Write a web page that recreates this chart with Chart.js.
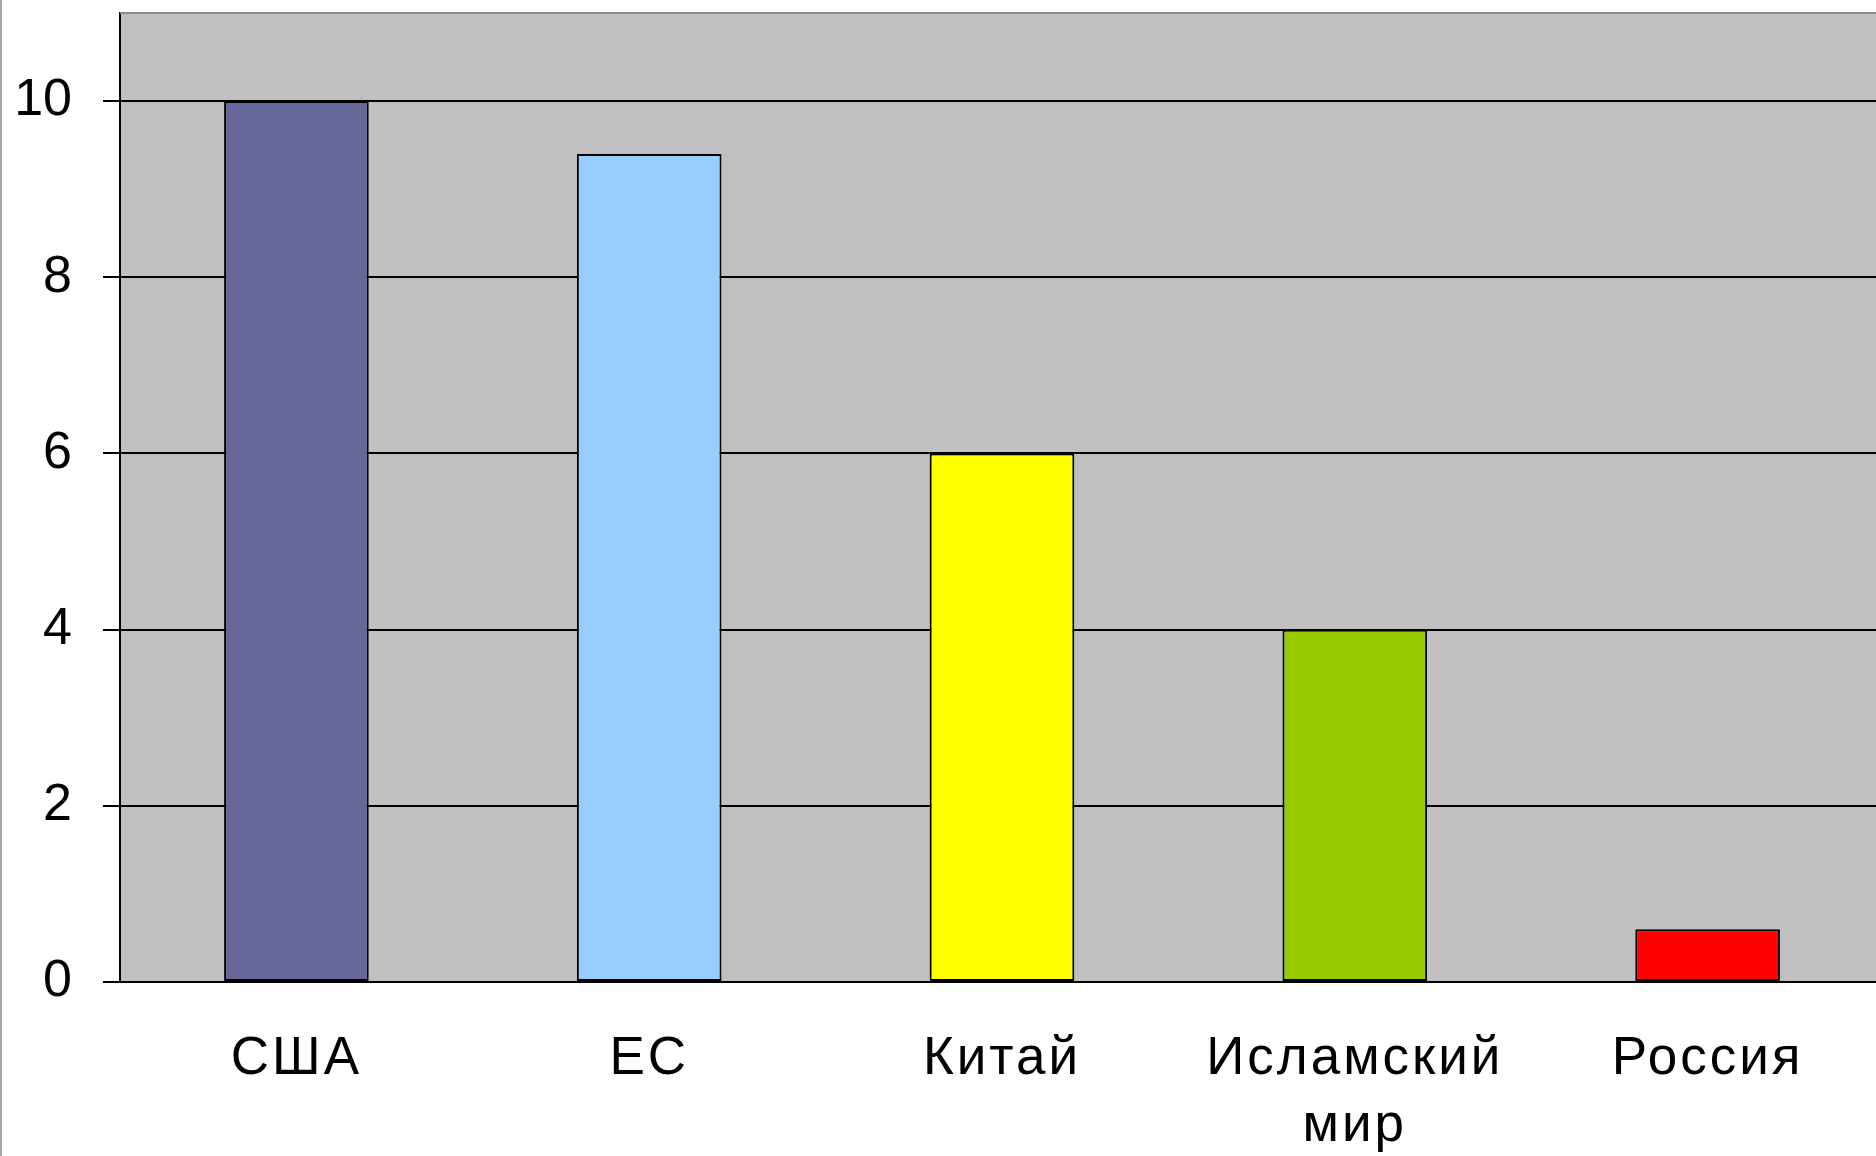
<!DOCTYPE html>
<html>
<head>
<meta charset="utf-8">
<script src="https://cdn.jsdelivr.net/npm/chart.js@4.4.0/dist/chart.umd.min.js"></script>
<style>
    html, body { margin: 0; padding: 0; background: #ffffff; overflow: hidden; }
    canvas { display: block; }
</style>
</head>
<body>
<canvas id="myChart" width="1876" height="1156"></canvas>
<script>
const categories = ['США', 'ЕС', 'Китай', ['Исламский', 'мир'], 'Россия'];
const values = [10, 9.4, 6, 4, 0.6];
const barColors = ['#666699', '#99ccff', '#ffff00', '#99cc00', '#ff0000'];
const yTicks = [0, 2, 4, 6, 8, 10];

// серый фон области построения, рамка слайда, разрядка подписей оси X
const plotBg = {
    id: 'plotBg',
    afterLayout(chart) {
        // область построения в оригинале уходит чуть за правый край
        const x = chart.scales.x;
        x.right += 8;
        x.width += 8;
        x.configure();
    },
    beforeDraw(chart) {
        const a = chart.chartArea;
        const c = chart.ctx;
        c.save();
        c.fillStyle = '#c0c0c0';
        c.fillRect(a.left, a.top, chart.width - a.left, a.bottom - a.top);
        c.restore();
    },
    afterDatasetsDraw(chart) {
        chart.ctx.letterSpacing = '3px';
    },
    afterDraw(chart) {
        const a = chart.chartArea;
        const c = chart.ctx;
        c.letterSpacing = '0px';
        c.save();
        c.strokeStyle = '#8c8c8c';
        c.lineWidth = 2;
        c.beginPath();
        c.moveTo(a.left, a.top);
        c.lineTo(chart.width, a.top);
        c.stroke();
        c.strokeStyle = '#a8a8a8';
        c.beginPath();
        c.moveTo(1, 0);
        c.lineTo(1, chart.height);
        c.stroke();
        c.restore();
    }
};

const ctx = document.getElementById('myChart');
new Chart(ctx, {
    type: 'bar',
    data: {
        labels: categories,
        datasets: [
            {
                data: values,
                backgroundColor: barColors,
                borderColor: '#000000',
                borderWidth: 2,
                borderSkipped: false,
                barPercentage: 0.41,
                categoryPercentage: 1
            }
        ]
    },
    options: {
        responsive: false,
        animation: false,
        layout: {
            padding: { left: 16, right: 0, top: 13, bottom: 0 }
        },
        plugins: {
            legend: { display: false },
            tooltip: { enabled: false }
        },
        scales: {
            x: {
                afterFit: (axis) => {
                    axis.paddingLeft = 0;
                    axis.paddingRight = 0;
                    axis.height = 174;
                },
                grid: { display: false, drawTicks: false },
                border: { display: true, color: '#000000', width: 2 },
                ticks: {
                    z: 1,
                    color: '#000000',
                    padding: 44,
                    maxRotation: 0,
                    autoSkip: false,
                    font: { family: 'Liberation Sans, Arial, sans-serif', size: 53, lineHeight: 1.26 }
                }
            },
            y: {
                min: 0,
                max: 11,
                afterBuildTicks: (axis) => {
                    axis.ticks = yTicks.map(v => ({ value: v }));
                },
                afterFit: (axis) => {
                    axis.paddingTop = 0;
                    axis.paddingBottom = 0;
                    axis.width = 104;
                },
                grid: {
                    color: '#000000',
                    lineWidth: 2,
                    tickLength: 17
                },
                border: { display: true, color: '#000000', width: 2 },
                ticks: {
                    color: '#000000',
                    padding: 31,
                    font: { family: 'Liberation Sans, Arial, sans-serif', size: 52, lineHeight: 0.5 }
                }
            }
        }
    },
    plugins: [plotBg]
});
</script>
</body>
</html>
